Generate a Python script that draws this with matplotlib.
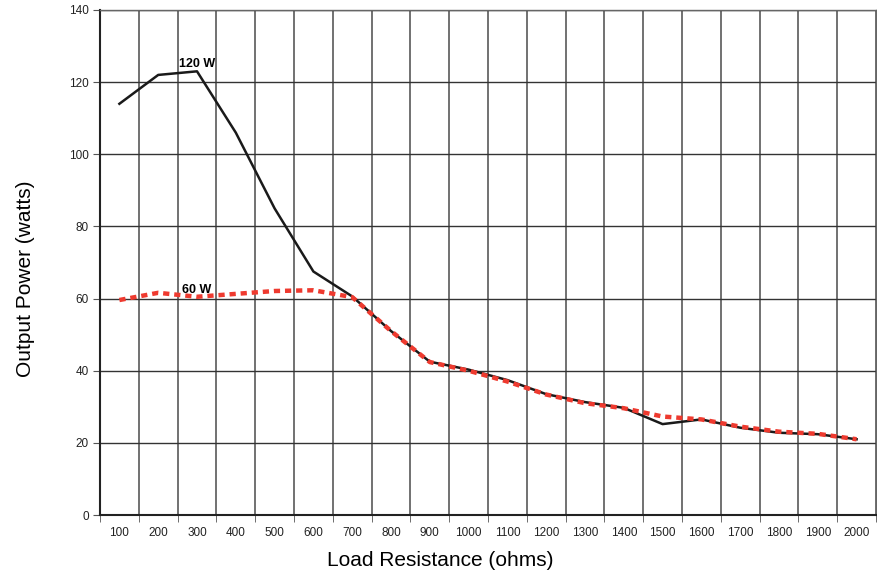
import matplotlib

matplotlib.use("Agg")
import matplotlib.pyplot as plt
from matplotlib.ticker import FixedLocator

# Load resistance (ohms) and measured output power (watts)
resistance = [100, 200, 300, 400, 500, 600, 700, 800, 900, 1000,
              1100, 1200, 1300, 1400, 1500, 1600, 1700, 1800, 1900, 2000]
power_120w = [114, 122, 123, 106, 85, 67.5, 60.6, 51, 42.5, 40.3,
              37.4, 33.5, 31.3, 29.7, 25.2, 26.5, 24.2, 22.8, 22.4, 21]
power_60w = [59.6, 61.6, 60.5, 61.3, 62.1, 62.3, 60.4, 51, 42.4, 40,
             37, 33.4, 31, 29.6, 27.3, 26.5, 24.5, 23.1, 22.5, 21]
y_ticks = [0, 20, 40, 60, 80, 100, 120, 140]

label_font = ["Liberation Sans Narrow", "Liberation Sans", "DejaVu Sans"]
tick_font = ["Liberation Sans", "DejaVu Sans"]

fig = plt.figure(figsize=(8.77, 5.79), dpi=100)
ax = fig.add_axes([100 / 877, 1 - 515 / 579, 776 / 877, 505 / 579])

ax.plot(resistance, power_120w, color="#1a1a1a", lw=1.8, zorder=3)
ax.plot(resistance, power_60w, color="#ee3a2f", lw=3.2, ls=(0, (1.4, 1.1)),
        zorder=4)

ax.text(300, 123.5, "120 W", fontsize=9, fontweight="bold", ha="center",
        va="bottom", family=tick_font)
ax.text(300, 60.6, "60 W", fontsize=9, fontweight="bold", ha="center",
        va="bottom", family=tick_font)

ax.set_xlim(50, 2050)
ax.set_ylim(0, 140)
ax.set_yticks(y_ticks)
ax.set_xticks(resistance)
ax.tick_params(axis="x", which="major", length=0, pad=9)
ax.xaxis.set_minor_locator(FixedLocator([r - 50 for r in resistance] + [2050]))
ax.tick_params(axis="x", which="minor", length=5, color="#555555")
ax.tick_params(axis="y", length=5, color="#555555", pad=3)
for lab in ax.get_xticklabels() + ax.get_yticklabels():
    lab.set_family(tick_font)
    lab.set_fontsize(8.5)
    lab.set_color("#222222")

ax.grid(axis="y", color="#333333", lw=1.0)
ax.grid(axis="x", which="minor", color="#666666", lw=1.3)
ax.set_axisbelow(True)
for side in ["left", "bottom"]:
    ax.spines[side].set_color("#222222")
    ax.spines[side].set_linewidth(1.5)
for side in ["top", "right"]:
    ax.spines[side].set_color("#666666")
    ax.spines[side].set_linewidth(1.0)

ax.set_xlabel("Load Resistance (ohms)", fontsize=15, family=label_font,
              va="center")
ax.set_ylabel("Output Power (watts)", fontsize=15, family=label_font,
              va="center")
ax.xaxis.set_label_coords((440 - 100) / 776, (515 - 561) / 505)
ax.yaxis.set_label_coords((26 - 100) / 776, (515 - 279) / 505)

fig.savefig("out.png", dpi=100)
